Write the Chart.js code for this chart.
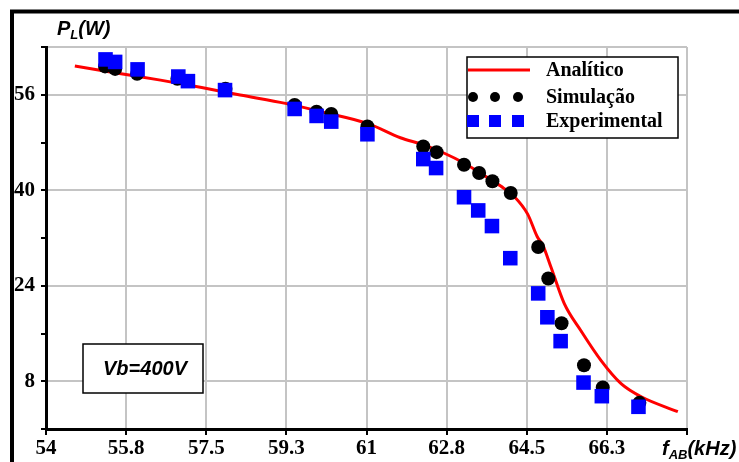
<!DOCTYPE html>
<html>
<head>
<meta charset="utf-8">
<script src="https://cdn.jsdelivr.net/npm/chart.js@4/dist/chart.umd.min.js"></script>
<style>
  html, body { margin: 0; padding: 0; background: #ffffff; }
  #wrap { width: 739px; height: 462px; }
</style>
</head>
<body>
<div id="wrap"><canvas id="c" width="739" height="462"></canvas></div>
<script>
// ---- data ----
const freqAnalytic  = [54.63, 55.5, 56.5, 57.4, 58.24, 59.23, 60.1, 61.02, 61.74, 62.25, 62.7, 63.12, 63.5, 63.93, 64.22, 64.52, 64.73, 64.85, 65.03, 65.32, 65.68, 66.12, 66.56, 67.0, 67.8];
const powerAnalytic = [60.83, 59.7, 58.45, 57.2, 55.95, 54.55, 53.0, 51.2, 48.8, 47.6, 46.2, 44.6, 42.8, 40.7, 39.0, 36.0, 32.2, 30.8, 27.1, 21.0, 16.5, 11.5, 7.6, 5.4, 2.9];

const freqSim  = [55.29, 55.51, 55.99, 56.87, 57.92, 59.43, 59.91, 60.23, 61.02, 62.24, 62.53, 63.13, 63.46, 63.75, 64.15, 64.75, 64.97, 65.26, 65.75, 66.16, 66.96];
const powerSim = [60.75, 60.33, 59.5, 58.67, 57.0, 54.28, 53.17, 52.78, 50.67, 47.33, 46.38, 44.28, 42.88, 41.5, 39.55, 30.5, 25.22, 17.72, 10.67, 6.95, 4.38];

const freqExp  = [55.30, 55.51, 56.0, 56.89, 57.10, 57.91, 59.43, 59.91, 60.23, 61.02, 62.24, 62.52, 63.13, 63.44, 63.74, 64.14, 64.75, 64.95, 65.24, 65.74, 66.14, 66.94];
const powerExp = [61.92, 61.5, 60.25, 59.05, 58.28, 56.78, 53.62, 52.45, 51.5, 49.38, 45.22, 43.72, 38.83, 36.62, 34.0, 28.62, 22.72, 18.72, 14.72, 7.78, 5.5, 3.72];

const seriesNames = ['Analítico', 'Simulação', 'Experimental'];
const xTickValues = [54, 55.75, 57.5, 59.25, 61, 62.75, 64.5, 66.25, 68];
const xTickLabels = ['54', '55.8', '57.5', '59.3', '61', '62.8', '64.5', '66.3', ''];
const yLabelValues = [8, 24, 40, 56];
const annotationText = 'Vb=400V';

// ---- helpers ----
const toXY = (xs, ys) => xs.map((x, i) => ({ x: x, y: ys[i] }));

const decorPlugin = {
  id: 'decor',
  afterDraw(chart) {
    const ctx = chart.ctx;
    ctx.save();
    // outer frame (top + left visible)
    ctx.strokeStyle = '#000';
    ctx.lineWidth = 4;
    ctx.strokeRect(12, 11.5, 800, 800);

    // axis titles with subscripts
    function subText(parts, x, y) {
      let cx = x;
      parts.forEach(p => {
        ctx.font = 'italic bold ' + p.size + 'px "Liberation Sans", Arial, sans-serif';
        ctx.fillStyle = '#000';
        ctx.textBaseline = 'alphabetic';
        ctx.textAlign = 'left';
        ctx.fillText(p.t, cx, y + (p.dy || 0));
        cx += ctx.measureText(p.t).width;
      });
    }
    subText([{t: 'P', size: 20}, {t: 'L', size: 13, dy: 4}, {t: '(W)', size: 20}], 57, 35);
    subText([{t: 'f', size: 20}, {t: 'AB', size: 13, dy: 4}, {t: '(kHz)', size: 20}], 662, 455);

    // legend box
    const ds = chart.data.datasets;
    const lx = 467, ly = 57, lw = 211, lh = 81;
    ctx.fillStyle = '#fff';
    ctx.fillRect(lx, ly, lw, lh);
    ctx.strokeStyle = '#000';
    ctx.lineWidth = 1.5;
    ctx.strokeRect(lx, ly, lw, lh);
    const rowsY = [70, 97, 121];
    const symX = [473, 495, 518];
    // line sample
    ctx.strokeStyle = ds[0].borderColor;
    ctx.lineWidth = 3;
    ctx.beginPath(); ctx.moveTo(468, rowsY[0]); ctx.lineTo(530, rowsY[0]); ctx.stroke();
    // dots
    ctx.fillStyle = ds[1].backgroundColor;
    symX.forEach(sx => { ctx.beginPath(); ctx.arc(sx, rowsY[1], 5, 0, Math.PI * 2); ctx.fill(); });
    // squares
    ctx.fillStyle = ds[2].backgroundColor;
    symX.forEach(sx => { ctx.fillRect(sx - 6, rowsY[2] - 6, 12, 12); });
    ctx.fillStyle = '#000';
    ctx.font = 'bold 20px "Liberation Serif", "Times New Roman", serif';
    ctx.textBaseline = 'middle';
    ctx.textAlign = 'left';
    seriesNames.forEach((n, i) => ctx.fillText(n, 546, rowsY[i] + 1));

    // annotation box
    ctx.fillStyle = '#fff';
    ctx.fillRect(83, 344, 120, 49);
    ctx.strokeStyle = '#000';
    ctx.lineWidth = 1.5;
    ctx.strokeRect(83, 344, 120, 49);
    ctx.fillStyle = '#000';
    ctx.font = 'italic bold 20px "Liberation Sans", Arial, sans-serif';
    ctx.textAlign = 'center';
    ctx.textBaseline = 'middle';
    ctx.fillText(annotationText, 145, 369);
    ctx.restore();
  }
};

new Chart(document.getElementById('c'), {
  type: 'scatter',
  data: {
    datasets: [
      {
        label: seriesNames[0],
        data: toXY(freqAnalytic, powerAnalytic),
        showLine: true,
        borderColor: '#ff0000',
        backgroundColor: '#ff0000',
        borderWidth: 3,
        pointRadius: 0,
        cubicInterpolationMode: 'monotone',
        order: 3
      },
      {
        label: seriesNames[1],
        data: toXY(freqSim, powerSim),
        showLine: false,
        pointStyle: 'circle',
        pointRadius: 7,
        borderWidth: 0,
        backgroundColor: '#000000',
        borderColor: '#000000',
        order: 2
      },
      {
        label: seriesNames[2],
        data: toXY(freqExp, powerExp),
        showLine: false,
        pointStyle: 'rect',
        pointRadius: 10.3,
        borderWidth: 0,
        backgroundColor: '#0000ff',
        borderColor: '#0000ff',
        order: 1
      }
    ]
  },
  options: {
    responsive: false,
    animation: false,
    devicePixelRatio: 1,
    layout: { padding: { left: 10, top: 47, right: 52, bottom: 0 } },
    plugins: { legend: { display: false }, tooltip: { enabled: false } },
    scales: {
      x: {
        type: 'linear',
        min: 54, max: 68,
        afterBuildTicks: (s) => { s.ticks = xTickValues.map(v => ({ value: v })); },
        afterFit: (s) => { s.height = 33; },
        ticks: {
          autoSkip: false, maxRotation: 0, padding: 1,
          color: '#000',
          font: { family: '"Liberation Serif", "Times New Roman", serif', size: 21, weight: 'bold' },
          callback: (v, i) => xTickLabels[i]
        },
        grid: {
          color: '#c4c4c4', lineWidth: 2,
          tickColor: '#000', tickWidth: 2, tickLength: 6
        },
        border: { color: '#000', width: 3 }
      },
      y: {
        type: 'linear',
        min: 0, max: 64,
        afterFit: (s) => { s.width = 36; },
        ticks: {
          stepSize: 8, padding: 6, color: '#000',
          font: { family: '"Liberation Serif", "Times New Roman", serif', size: 21, weight: 'bold' },
          callback: (v) => yLabelValues.includes(v) ? String(v) : ''
        },
        grid: {
          color: (c) => (c.tick && (yLabelValues.includes(c.tick.value) || c.tick.value === 64)) ? '#c4c4c4' : 'rgba(0,0,0,0)',
          lineWidth: 2,
          tickColor: '#000', tickWidth: 2, tickLength: 5
        },
        border: { color: '#000', width: 3 }
      }
    }
  },
  plugins: [decorPlugin]
});
</script>
</body>
</html>
